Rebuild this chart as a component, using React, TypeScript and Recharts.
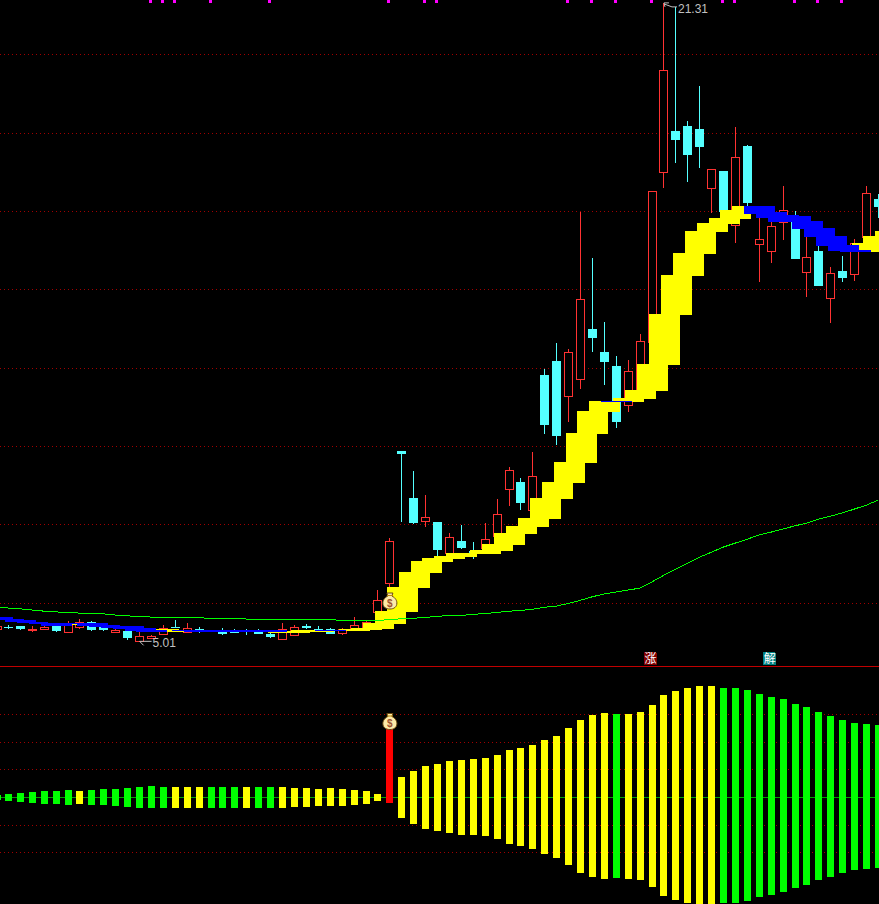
import { Bar, CartesianGrid, ComposedChart, Line, Scatter, XAxis, YAxis } from 'recharts';

// all price / band / MA lists start at bar -1, which hangs off the left edge
const firstBar = -1;
const leadInBar = -0.93; // the bar spacing is stepped on screen, this one sits a bit closer

const opens = [5.33, 5.38, 5.4, 5.31, 5.33, 5.4, 5.25, 5.38, 5.5, 5.38, 5.25, 5.27, 5.02, 5.1, 5.2, 5.38, 5.25, 5.33, 5.27, 5.27, 5.26, 5.27, 5.27, 5.2, 5.07, 5.17, 5.4, 5.33, 5.33, 5.22, 5.33, 5.35, 5.76, 6.5, 9.87, 8.67, 8.08, 8.06, 7.27, 7.57, 7.32, 7.39, 7.7, 8.9, 9.08, 8.36, 11.81, 12.17, 11.27, 11.71, 12.99, 12.4, 12.04, 11.04, 11.43, 12.65, 16.99, 18.04, 18.17, 18.09, 16.58, 17.02, 15.64, 17.66, 15.15, 14.98, 15.72, 15.72, 14.44, 14.98, 13.78, 14.47, 14.39, 15.33, 16.3];
const closes = [5.4, 5.36, 5.33, 5.33, 5.38, 5.27, 5.43, 5.5, 5.3, 5.3, 5.3, 5.1, 5.15, 5.15, 5.35, 5.35, 5.35, 5.3, 5.25, 5.2, 5.24, 5.25, 5.2, 5.12, 5.33, 5.38, 5.35, 5.27, 5.2, 5.33, 5.43, 5.5, 6.07, 7.57, 9.79, 8.03, 8.19, 7.34, 7.67, 7.39, 7.24, 7.62, 8.26, 9.39, 8.54, 9.23, 10.53, 10.25, 12.4, 13.75, 12.76, 12.14, 10.61, 11.91, 12.68, 16.51, 19.6, 17.81, 17.43, 17.63, 17.07, 15.97, 17.38, 16.2, 15.28, 15.61, 16.02, 14.77, 14.82, 14.08, 14.41, 14.29, 15.18, 16.46, 16.1];
const highs = [5.41, 5.43, 5.4, 5.4, 5.4, 5.41, 5.53, 5.58, 5.53, 5.4, 5.33, 5.3, 5.25, 5.17, 5.43, 5.56, 5.48, 5.38, 5.3, 5.35, 5.33, 5.33, 5.33, 5.22, 5.48, 5.43, 5.45, 5.4, 5.34, 5.35, 5.63, 5.53, 6.32, 7.65, 9.88, 9.36, 8.75, 8.06, 7.78, 7.98, 7.55, 8.03, 8.65, 9.46, 9.18, 9.84, 11.96, 12.63, 12.47, 15.97, 14.8, 13.16, 12.3, 12.19, 12.86, 16.52, 21.31, 21.2, 18.3, 19.19, 17.08, 17.03, 18.14, 17.68, 15.82, 15.82, 16.64, 16.0, 15.33, 15.1, 14.57, 14.85, 15.28, 16.64, 16.43];
const lows = [5.32, 5.33, 5.3, 5.25, 5.32, 5.25, 5.24, 5.33, 5.27, 5.27, 5.24, 5.05, 5.01, 5.07, 5.19, 5.34, 5.22, 5.22, 5.24, 5.17, 5.22, 5.17, 5.19, 5.1, 5.06, 5.16, 5.33, 5.26, 5.19, 5.17, 5.32, 5.33, 5.73, 6.37, 8.06, 8.01, 7.93, 7.19, 7.25, 7.38, 7.11, 7.38, 7.68, 8.47, 8.36, 8.35, 10.3, 10.02, 10.61, 11.45, 12.4, 11.56, 10.46, 10.87, 11.4, 12.64, 16.58, 17.22, 16.74, 17.1, 15.95, 15.96, 15.18, 16.12, 14.18, 14.67, 15.26, 14.76, 13.8, 14.07, 13.14, 14.18, 14.21, 15.32, 15.82];

const bandHigh = [5.63, 5.58, 5.56, 5.5, 5.48, 5.48, 5.45, 5.48, 5.48, 5.43, 5.4, 5.4, 5.35, 5.3, 5.33, 5.3, 5.31, 5.31, 5.3, 5.3, 5.3, 5.3, 5.29, 5.29, 5.27, 5.27, 5.3, 5.3, 5.3, 5.31, 5.33, 5.35, 5.48, 5.78, 6.4, 6.78, 7.06, 7.14, 7.19, 7.27, 7.27, 7.34, 7.5, 7.78, 7.96, 8.16, 8.67, 9.08, 9.59, 10.33, 10.89, 11.15, 11.15, 11.22, 11.43, 12.09, 13.37, 14.36, 14.93, 15.49, 15.69, 15.82, 16.02, 16.12, 16.12, 15.97, 15.9, 15.87, 15.74, 15.56, 15.36, 15.13, 15.0, 15.18, 15.36, 15.49];
const bandLow = [5.58, 5.56, 5.5, 5.48, 5.45, 5.4, 5.43, 5.45, 5.4, 5.38, 5.35, 5.33, 5.27, 5.25, 5.25, 5.26, 5.29, 5.26, 5.26, 5.25, 5.25, 5.25, 5.25, 5.25, 5.22, 5.22, 5.25, 5.25, 5.27, 5.27, 5.27, 5.3, 5.33, 5.45, 5.76, 6.37, 6.76, 7.04, 7.11, 7.16, 7.24, 7.24, 7.32, 7.47, 7.75, 7.93, 8.13, 8.65, 9.05, 9.56, 10.3, 10.87, 11.12, 11.12, 11.2, 11.4, 12.07, 13.34, 14.34, 14.9, 15.46, 15.67, 15.79, 16.0, 15.92, 15.82, 15.72, 15.72, 15.54, 15.33, 15.1, 14.98, 14.95, 15.0, 14.95, 15.1];
// bars where the band is blue, it is yellow on all the others
const blueBars = [-1, 0, 1, 2, 3, 4, 6, 7, 8, 9, 10, 11, 12, 15, 16, 17, 18, 19, 20, 21, 22, 27, 51, 63, 64, 65, 66, 67, 68, 69, 70, 71];

const ma = [5.89, 5.86, 5.84, 5.81, 5.78, 5.76, 5.75, 5.73, 5.72, 5.71, 5.68, 5.66, 5.64, 5.63, 5.62, 5.62, 5.61, 5.61, 5.6, 5.6, 5.59, 5.58, 5.58, 5.58, 5.57, 5.57, 5.57, 5.57, 5.56, 5.55, 5.55, 5.55, 5.55, 5.56, 5.59, 5.6, 5.62, 5.65, 5.67, 5.67, 5.7, 5.72, 5.75, 5.78, 5.8, 5.83, 5.88, 5.91, 5.98, 6.06, 6.15, 6.22, 6.27, 6.32, 6.37, 6.53, 6.7, 6.86, 7.01, 7.16, 7.29, 7.42, 7.52, 7.62, 7.73, 7.8, 7.88, 7.96, 8.03, 8.13, 8.21, 8.29, 8.39, 8.49, 8.62];

const oscUp = [2.3, 3.3, 4.3, 5.3, 6.3, 6.3, 7.3, 6.3, 7.3, 8.3, 8.3, 9.3, 10.3, 11.3, 10.3, 10.3, 10.3, 10.3, 10.3, 10.3, 10.3, 10.3, 10.3, 10.3, 10.3, 9.3, 9.3, 8.3, 9.3, 8.3, 7.3, 6.3, 3.3, 68.3, 20.3, 26.3, 31.3, 33.3, 36.3, 37.3, 38.3, 39.3, 42.3, 47.3, 49.3, 52.3, 57.3, 61.3, 69.3, 77.3, 82.3, 84.3, 83.3, 83.3, 85.3, 92.3, 102.3, 106.3, 109.3, 111.3, 111.3, 109.3, 109.3, 107.3, 103.3, 100.3, 98.3, 93.3, 90.3, 85.3, 81.3, 77.3, 74.3, 73.3, 72.3];
const oscDown = [-2.3, -3.7, -4.7, -5.7, -6.7, -6.7, -7.7, -6.7, -7.7, -7.7, -8.7, -9.7, -10.7, -10.7, -10.7, -10.7, -10.7, -10.7, -10.7, -10.7, -10.7, -10.7, -10.7, -10.7, -10.7, -9.7, -9.7, -8.7, -8.7, -8.7, -7.7, -6.7, -3.7, -5.7, -20.7, -26.7, -31.7, -33.7, -35.7, -37.7, -37.7, -38.7, -41.7, -46.7, -48.7, -51.7, -56.7, -60.7, -67.7, -75.7, -79.7, -81.7, -80.7, -81.7, -82.7, -89.7, -98.7, -102.7, -105.7, -107, -107, -105.7, -105.7, -103.7, -99.7, -97.7, -94.7, -90.7, -87.7, -82.7, -79.7, -75.7, -72.7, -71.7, -70.7];
const oscGreenBars = [-1, 0, 1, 2, 3, 4, 5, 7, 8, 9, 10, 11, 12, 13, 17, 18, 19, 21, 22, 51, 60, 61, 62, 63, 64, 65, 66, 67, 68, 69, 70, 71, 72, 73];
const oscRedBars = [32];

const signalBars = [12, 13, 14, 17, 22, 32, 35, 36, 47, 49, 51, 54, 60, 61, 66, 68, 70];
const priceGrid = [6, 8, 10, 12, 14, 16, 18, 20];
const oscGrid = [83, 55.3, 27.7, -27.7, -55.3];

const priceTable = bandHigh.map((hi, n) => ({
  i: n === 0 ? leadInBar : n + firstBar,
  open: opens[n] ?? null,
  close: closes[n] ?? null,
  high: highs[n] ?? null,
  low: lows[n] ?? null,
  ma: ma[n] ?? null,
  bandHi: hi,
  bandLo: bandLow[n],
  blue: blueBars.includes(n + firstBar),
}));

const oscTable = oscUp.map((up, n) => {
  const bar = n + firstBar;
  return {
    i: n === 0 ? leadInBar : bar,
    up,
    down: oscDown[n],
    color: oscRedBars.includes(bar) ? '#ff0000' : oscGreenBars.includes(bar) ? '#00ff00' : '#ffff00',
  };
});

const CYAN = '#54ffff';
const RED = '#ff3232';

function Candle({ x, y, width, height, payload }: any) {
  if (payload.high == null) return null;
  const top = Math.min(y, y + height);
  const perUnit = Math.abs(height) / (payload.high - payload.low);
  const py = (v: number) => Math.round(top + (payload.high - v) * perUnit);
  const left = Math.round(x + width / 2 - 4.5);
  const mid = left + 4;
  const up = payload.close >= payload.open;
  const bodyTop = py(Math.max(payload.open, payload.close));
  const bodyBot = Math.max(py(Math.min(payload.open, payload.close)), bodyTop + 1);
  const hi = py(payload.high);
  const lo = py(payload.low);
  const color = up ? RED : CYAN;
  return (
    <g shapeRendering="crispEdges">
      <rect x={mid} y={hi} width={1} height={Math.max(lo - hi, 1)} fill={color} />
      {up ? (
        <rect x={left + 0.5} y={bodyTop + 0.5} width={8} height={bodyBot - bodyTop} fill="#000" stroke={color} />
      ) : (
        <rect x={left} y={bodyTop} width={9} height={bodyBot - bodyTop} fill={color} />
      )}
    </g>
  );
}

function Block({ x, y, width, height, fill }: any) {
  if (!height) return null;
  const top = Math.round(Math.min(y, y + height));
  const bot = Math.round(Math.max(y, y + height));
  return (
    <rect
      x={Math.round(x + width / 2 - 15.5)}
      y={top}
      width={31}
      height={Math.max(bot - top, 1)}
      fill={fill}
      shapeRendering="crispEdges"
    />
  );
}

function OscBar({ x, y, width, height, payload }: any) {
  const top = Math.round(Math.min(y, y + height));
  const bot = Math.round(Math.max(y, y + height));
  return (
    <rect
      x={Math.round(x + width / 2 - 3.5)}
      y={top}
      width={7}
      height={bot - top}
      fill={payload.color}
      shapeRendering="crispEdges"
    />
  );
}

function MoneyBag({ cx, cy }: any) {
  return (
    <g transform={`translate(${cx},${cy})`}>
      <path
        d="M-3 -8 L3 -8 L2 -5 C6 -3 7 0 7 2 C7 6 4 8 0 8 C-4 8 -7 6 -7 2 C-7 0 -6 -3 -2 -5 Z"
        fill="#fdeaa8"
        stroke="#6b4a10"
      />
      <rect x={-3} y={-6} width={6} height={1} fill="#b8860b" />
      <text y={5.5} textAnchor="middle" fontSize={10} fontWeight="bold" fontFamily="Liberation Sans" fill="#a0522d">
        $
      </text>
    </g>
  );
}

function Signal({ cx }: any) {
  return <rect x={Math.round(cx - 2.5)} y={0} width={3} height={3} fill="#ff00ff" shapeRendering="crispEdges" />;
}

function HighNote({ cx, cy }: any) {
  return (
    <g fill="none" stroke="#c0c0c0">
      <polyline points={`${cx + 5},${cy} ${cx},${cy} ${cx + 1},${cy + 4}`} />
      <polyline points={`${cx},${cy + 1} ${cx + 8},${cy + 4} ${cx + 13},${cy + 4}`} />
      <text x={cx + 14} y={cy + 10} fontSize={12} fontFamily="Liberation Sans" fill="#c0c0c0" stroke="none">
        21.31
      </text>
    </g>
  );
}

function LowNote({ cx, cy }: any) {
  return (
    <g fill="none" stroke="#c0c0c0">
      <polyline points={`${cx + 12},${cy} ${cx},${cy} ${cx + 4},${cy + 4}`} />
      <text x={cx + 13} y={cy + 5.5} fontSize={12} fontFamily="Liberation Sans" fill="#c0c0c0" stroke="none">
        5.01
      </text>
    </g>
  );
}

function Tag({ cx, cy, payload }: any) {
  const x = cx - 8;
  const y = cy - 6.5;
  return (
    <g>
      <path d={`M${x} ${y} h11 l2 2 v11 h-13 Z`} fill={payload.bg} shapeRendering="crispEdges" />
      <text
        x={x + 6.5}
        y={y + 11}
        textAnchor="middle"
        fontSize={12}
        fontFamily="Noto Sans CJK SC"
        fill="#fff"
      >
        {payload.word}
      </text>
    </g>
  );
}

// the CartesianGrid line props come as floats, snap them so the dots stay 1px
const gridRow = (stroke: string, dash?: string, snap = Math.round) => (p: any) => {
  const row = snap(p.y1) + 0.5;
  return <line key={p.key} x1={0} x2={879} y1={row} y2={row} stroke={stroke} strokeDasharray={dash} />;
};

export default function App() {
  return (
    <div style={{ position: 'absolute', left: 0, top: 0, width: 879, height: 904, background: '#000', overflow: 'hidden' }}>
      <div style={{ position: 'absolute', left: 0, top: 0 }}>
        <ComposedChart width={879} height={667} data={priceTable} margin={{ top: 0, right: 0, bottom: 0, left: 0 }} barSize={9} accessibilityLayer={false}>
          <XAxis xAxisId="candle" type="number" dataKey="i" domain={[-0.713, 73.04]} allowDataOverflow hide />
          <XAxis xAxisId="yellow" type="number" dataKey="i" domain={[-0.713, 73.04]} allowDataOverflow hide />
          <XAxis xAxisId="blue" type="number" dataKey="i" domain={[-0.713, 73.04]} allowDataOverflow hide />
          <YAxis domain={[4.355, 21.384]} allowDataOverflow hide />
          <CartesianGrid xAxisId="candle" vertical={false} horizontalValues={priceGrid} horizontal={gridRow('#a00000', '1 3')} />
          <CartesianGrid xAxisId="candle" vertical={false} horizontalValues={[4.368]} horizontal={gridRow('#c00000')} />
          <Bar xAxisId="candle" dataKey={(d: any) => (d.high == null ? null : [d.low, d.high])} shape={<Candle />} isAnimationActive={false} />
          <Bar
            xAxisId="yellow"
            barSize={31}
            dataKey={(d: any) => (d.blue ? null : [d.bandLo, d.bandHi])}
            fill="#ffff00"
            shape={<Block />}
            isAnimationActive={false}
          />
          <Bar
            xAxisId="blue"
            barSize={31}
            dataKey={(d: any) => (d.blue ? [d.bandLo, d.bandHi] : null)}
            fill="#0000ff"
            shape={<Block />}
            isAnimationActive={false}
          />
          <Line
            xAxisId="candle"
            dataKey="ma"
            stroke="#00ff00"
            strokeWidth={1}
            dot={false}
            activeDot={false}
            shapeRendering="crispEdges"
            isAnimationActive={false}
          />
          <Scatter xAxisId="candle" data={signalBars.map((i) => ({ i, v: 21.36 }))} dataKey="v" shape={<Signal />} isAnimationActive={false} />
          <Scatter xAxisId="candle" data={[{ i: 32, v: 6.04 }]} dataKey="v" shape={<MoneyBag />} isAnimationActive={false} />
          <Scatter xAxisId="candle" data={[{ i: 55, v: 21.31 }]} dataKey="v" shape={<HighNote />} isAnimationActive={false} />
          <Scatter xAxisId="candle" data={[{ i: 11, v: 5.01 }]} dataKey="v" shape={<LowNote />} isAnimationActive={false} />
          <Scatter
            xAxisId="candle"
            data={[
              { i: 54, v: 4.57, word: '涨', bg: '#800000' },
              { i: 64, v: 4.57, word: '解', bg: '#008080' },
            ]}
            dataKey="v"
            shape={<Tag />}
            isAnimationActive={false}
          />
        </ComposedChart>
      </div>
      <div style={{ position: 'absolute', left: 0, top: 667 }}>
        <ComposedChart width={879} height={237} data={oscTable} margin={{ top: 0, right: 0, bottom: 0, left: 0 }} barSize={7} accessibilityLayer={false}>
          <XAxis type="number" dataKey="i" domain={[-0.713, 73.04]} allowDataOverflow hide />
          <YAxis domain={[-106.5, 130.5]} allowDataOverflow hide />
          <CartesianGrid vertical={false} horizontalValues={oscGrid} horizontal={gridRow('#a00000', '1 3', Math.floor)} />
          <CartesianGrid vertical={false} horizontalValues={[0]} horizontal={gridRow('#00a000', undefined, Math.floor)} />
          <Bar dataKey={(d: any) => [d.down, d.up]} shape={<OscBar />} isAnimationActive={false} />
          <Scatter data={[{ i: 32, v: 76 }]} dataKey="v" shape={<MoneyBag />} isAnimationActive={false} />
        </ComposedChart>
      </div>
    </div>
  );
}
